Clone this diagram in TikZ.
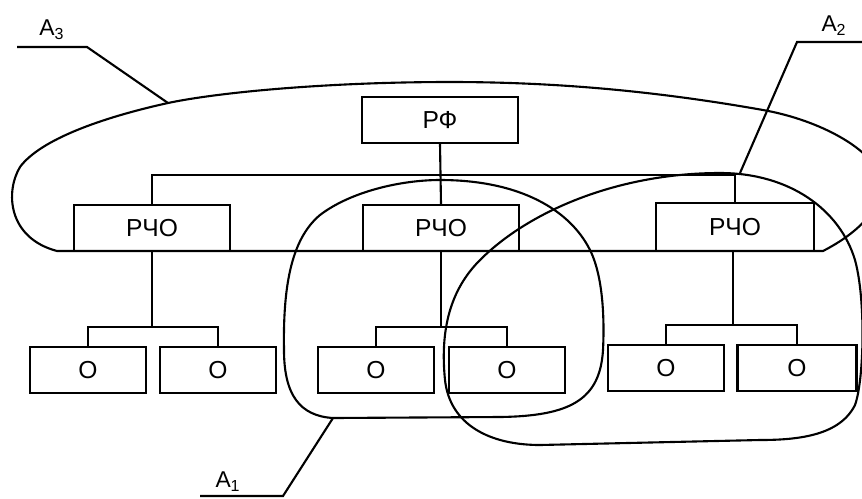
\documentclass[tikz,border=0pt]{standalone}
\usepackage{fontspec}
\setmainfont{Liberation Sans}

\tikzset{
  unit/.style={draw, line width=1.2pt, inner sep=0pt, minimum height=0.92cm,
    font=\fontsize{14}{16}\selectfont},
  topbox/.style={unit, minimum width=3.12cm},
  midbox/.style={unit, minimum width=3.12cm},
  lowbox/.style={unit, minimum width=2.32cm},
  zone/.style={line width=1.2pt},
  tag/.style={font=\fontsize{13}{15}\selectfont}
}

\begin{document}
\begin{tikzpicture}[x=0.02cm, y=-0.02cm, line width=1.2pt] % 以像素为单位，y 轴向下

    % 0. 画布边界
    \clip (0,0) rectangle (862,498);

    % 1. 顶层与中层方框
    \node[topbox] (rf) at (440,120) {РФ};
    \node[midbox] (rcho1) at (152,228) {РЧО};
    \node[midbox] (rcho2) at (441,228) {РЧО};
    \node[midbox, minimum width=3.16cm, minimum height=0.96cm] (rcho3) at (735,227) {РЧО};

    % 2. 底层方框
    \node[lowbox] (o11) at (88,370) {О};
    \node[lowbox] (o12) at (218,370) {О};
    \node[lowbox] (o21) at (376,370) {О};
    \node[lowbox] (o22) at (507,370) {О};
    \node[lowbox] (o31) at (666,368) {О};
    \node[lowbox, minimum width=2.38cm] (o32) at (797,368) {О};

    % 3. 连接线：总线与分支
    \coordinate (bus) at (441,175);
    \draw (rf.south) -- (rcho2.north);
    \draw (rcho1.north) |- (bus) -| (rcho3.north);
    \coordinate (b1) at (152,327);
    \coordinate (b2) at (441,327);
    \coordinate (b3) at (733,325);
    \draw (rcho1.south) -- (b1);
    \draw (o11.north) |- (b1) -| (o12.north);
    \draw (rcho2.south) -- (b2);
    \draw (o21.north) |- (b2) -| (o22.north);
    \draw (rcho3.south -| b3) -- (b3);
    \draw (o31.north) |- (b3) -| (o32.north);

    % 4. 区域 A3（底边与中层方框底边重合）
    \draw[zone] (57,251) -- (823,251)
          .. controls (860,232) and (886,205) .. (880,178)
          .. controls (874,150) and (820,120) .. (763,110)
          .. controls (650,90) and (550,82) .. (450,82)
          .. controls (330,82) and (220,92) .. (168,103)
          .. controls (100,118) and (40,140) .. (20,167)
          .. controls (5,192) and (8,238) .. cycle;

    % 5. 区域 A1（中间一组）
    \draw[zone] (440,180)
          .. controls (520,180) and (570,210) .. (590,250)
          .. controls (605,280) and (604,330) .. (603,350)
          .. controls (600,400) and (570,416) .. (500,417)
          -- (333,418)
          .. controls (300,416) and (284,395) .. (284,350)
          .. controls (283,290) and (290,240) .. (320,215)
          .. controls (350,192) and (400,180) .. cycle;

    % 6. 区域 A2（右侧一组）
    \draw[zone] (720,173)
          .. controls (790,173) and (840,210) .. (855,260)
          .. controls (866,300) and (864,380) .. (855,405)
          .. controls (840,435) and (800,440) .. (760,440)
          -- (540,445)
          .. controls (490,445) and (450,425) .. (445,380)
          .. controls (440,330) and (450,290) .. (480,260)
          .. controls (530,210) and (620,173) .. cycle;

    % 7. 引出线与标签
    \coordinate (a3tip) at (168,103);
    \coordinate (a3knee) at (87,47);
    \coordinate (a3end) at (17,47);
    \draw (a3end) -- (a3knee) -- (a3tip);
    \node[tag] (a3) at (52,30) {A\textsubscript{3}};

    \coordinate (a2tip) at (740,173);
    \coordinate (a2knee) at (797,42);
    \coordinate (a2end) at (862,42);
    \draw (a2tip) -- (a2knee) -- (a2end);
    \node[tag] (a2) at (834,26) {A\textsubscript{2}};

    \coordinate (a1tip) at (333,418);
    \coordinate (a1knee) at (283,496);
    \coordinate (a1end) at (200,496);
    \draw (a1tip) -- (a1knee) -- (a1end);
    \node[tag] (a1) at (228,482) {A\textsubscript{1}};

\end{tikzpicture}
\end{document}
